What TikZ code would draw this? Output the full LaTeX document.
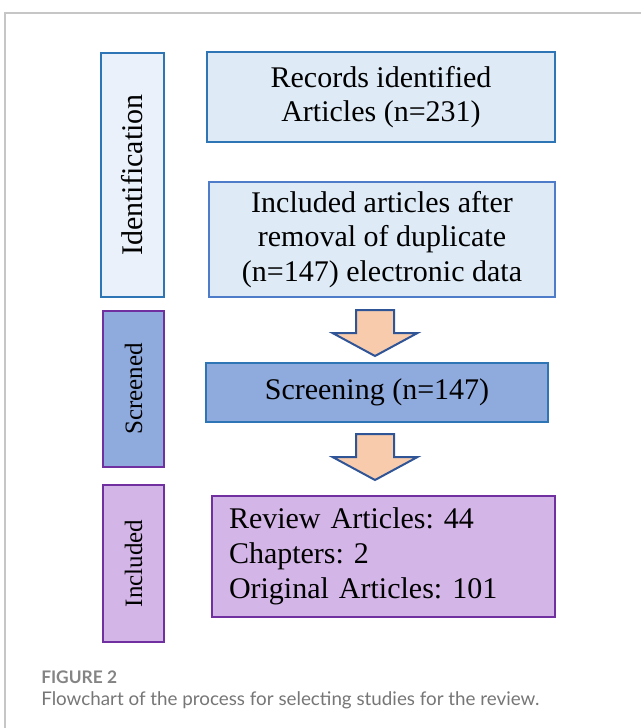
\documentclass[tikz,border=0pt]{standalone}
\usepackage{fontspec}
\setmainfont{Liberation Serif}
\newfontfamily\capfont{Lato}
\usetikzlibrary{positioning}
\frenchspacing
\definecolor{lightblue}{HTML}{DEEBF7}
\definecolor{paleblue}{HTML}{EAF1FA}
\definecolor{officeblue}{HTML}{2E75B6}
\definecolor{softblue}{HTML}{4F7CC8}
\definecolor{midblue}{HTML}{8FAADC}
\definecolor{darkpurple}{HTML}{7030A0}
\definecolor{lavender}{HTML}{D4B5E7}
\definecolor{peach}{HTML}{F8CBAD}
\definecolor{navyline}{HTML}{2F5597}
\definecolor{framegray}{HTML}{C6C6C6}
\definecolor{capgray}{HTML}{767676}
\begin{document}
\begin{tikzpicture}[x=0.75pt,y=-0.75pt]
% Styles
\tikzset{stagebox/.style={draw,line width=1.5pt,rotate=90,inner sep=0pt},
  stepbox/.style={draw,line width=1.5pt,inner sep=0pt,align=center,
    font=\fontsize{22.5pt}{26pt}\selectfont},
  blockarrow/.style={fill=peach,draw=navyline,line width=1.5pt,line join=miter}}
\useasboundingbox (0,0) rectangle (641,728);
% Frame
\draw[framegray,line width=0.9pt] (5,728) -- (5,13) -- (641,13);
% Stage labels on the left
\node[stagebox,fill=paleblue,draw=officeblue,minimum width=183pt,minimum height=47.25pt,
  font=\fontsize{22.5pt}{26pt}\selectfont] (ident) at (132.5,175) {Identification};
\node[stagebox,fill=midblue,draw=darkpurple,minimum width=117pt,minimum height=45.75pt,
  font=\fontsize{18.75pt}{22pt}\selectfont] (screened) at (133.5,389) {Screened};
\node[stagebox,fill=lavender,draw=darkpurple,minimum width=117.75pt,minimum height=45.75pt,
  font=\fontsize{18.75pt}{22pt}\selectfont] (included) at (133.5,563.5) {Included};
% Steps
\node[stepbox,fill=lightblue,draw=officeblue,minimum width=261pt,minimum height=67.5pt]
  (records) at (381,97) {Records identified\\Articles (n=231)};
\node[stepbox,fill=lightblue,draw=softblue,minimum width=259.5pt,minimum height=86.25pt]
  (dupl) at (382,239.5) {Included articles after\\removal of duplicate\\(n=147) electronic data};
\node[stepbox,fill=midblue,draw=officeblue,minimum width=256.5pt,minimum height=44.25pt]
  (screening) at (377,392.5) {Screening (n=147)};
\node[stepbox,fill=lavender,draw=darkpurple,minimum height=90.75pt,align=left,
  text width=231.75pt,inner xsep=12.75pt,font=\fontsize{22.5pt}{26.25pt}\selectfont]
  (result) at (383.5,556.5) {Review Articles: 44\\Chapters: 2\\Original Articles: 101};
% Block arrows
\coordinate (arrowA) at (375,310);
\coordinate (arrowB) at (375,434);
\foreach \t in {arrowA,arrowB} {
\draw[blockarrow] (\t) ++(-19,0) -- ++(38,0) -- ++(0,23) -- ++(23.5,0)
  -- ++(-42.5,23) -- ++(-42.5,-23) -- ++(23.5,0) -- cycle;
}
% Caption
\node[anchor=west,inner sep=0pt,text=capgray!90,font=\capfont\bfseries\fontsize{13pt}{15pt}\selectfont]
  (figlabel) at (41,677) {FIGURE 2};
\node[anchor=west,inner sep=0pt,text=capgray,font=\capfont\fontsize{14.1pt}{16pt}\selectfont]
  (figcaption) at (41,700) {Flowchart of the process for selecting studies for the review.};
\end{tikzpicture}
\end{document}
